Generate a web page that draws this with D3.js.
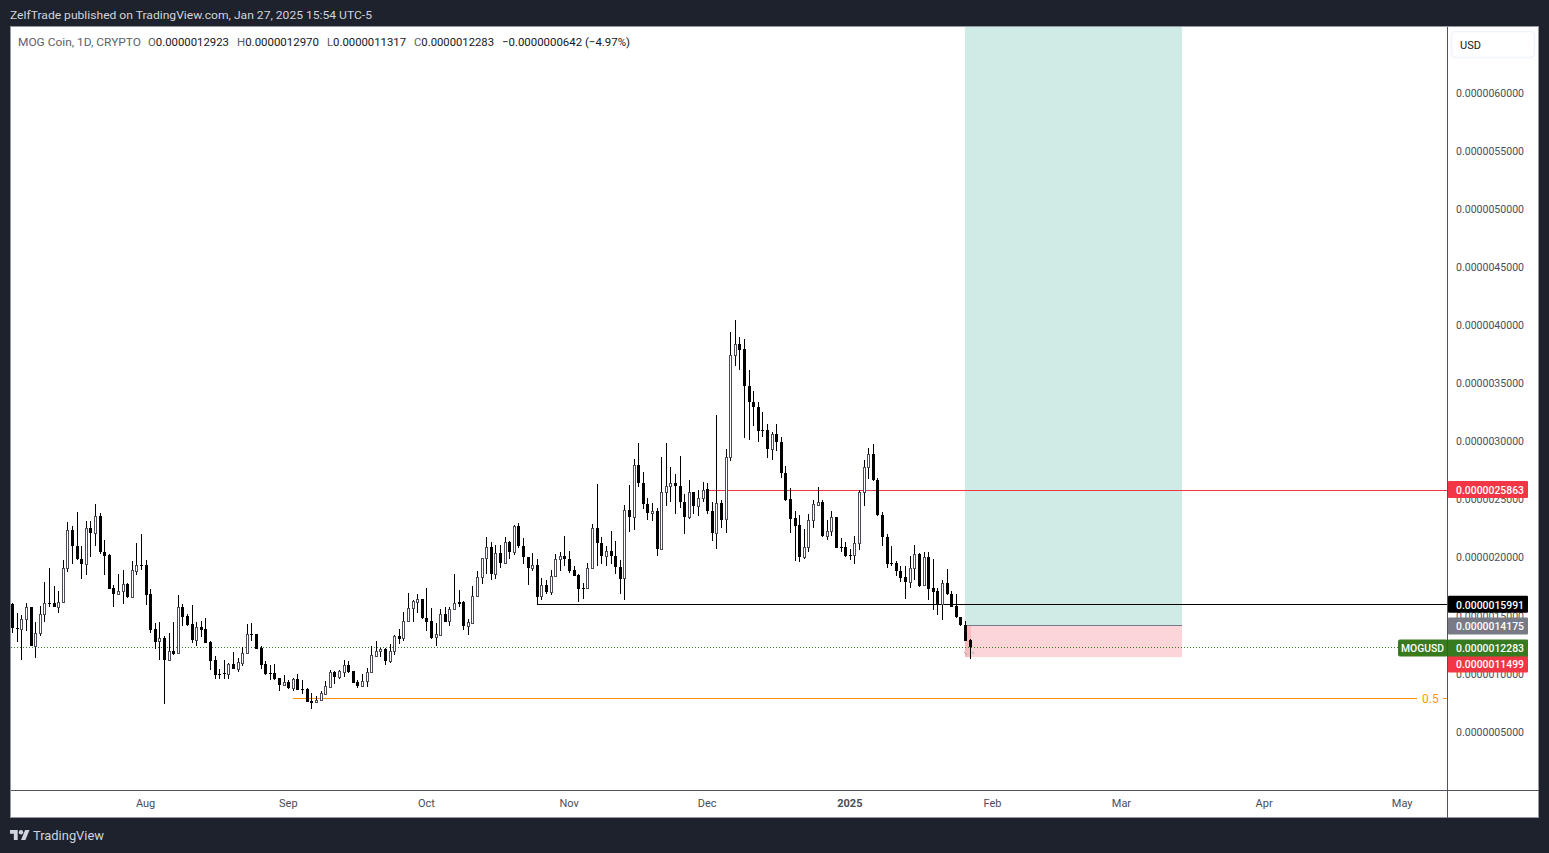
<!DOCTYPE html>
<html>
<head>
<meta charset="utf-8">
<script src="https://cdn.jsdelivr.net/npm/d3@7/dist/d3.min.js"></script>
<style>
html,body{margin:0;padding:0;background:#1e222d;overflow:hidden}
svg{display:block}
text{font-family:Roboto,"Liberation Sans",sans-serif}
</style>
</head>
<body>
<svg id="c" width="1549" height="853"></svg>
<script>
// Prices are in units of 1e-7 USD, one candle per day from firstDay on.
const firstDay = "2024-07-03";
const opens = [
16.03,13.96,13.85,14.71,15.77,12.44,13.50,15.14,16.09,16.09,
15.77,16.17,19.10,22.36,21.03,19.91,19.42,22.55,22.17,23.58,
20.48,20.25,17.41,16.92,17.12,17.75,16.66,18.90,19.36,19.39,
16.89,13.85,12.79,13.07,11.24,11.95,11.78,15.77,15.00,14.31,
12.96,14.05,13.88,12.76,11.21,10.00,10.06,10.03,10.83,10.46,
10.98,11.78,13.42,13.42,12.27,10.83,10.09,10.06,9.63,9.08,
9.31,8.82,9.54,8.68,8.68,7.65,7.56,7.73,8.31,8.91,
10.17,9.77,10.20,10.75,10.23,9.31,9.00,9.37,10.14,11.58,
11.95,12.12,11.15,11.95,13.27,13.07,14.54,15.66,16.23,16.43,
14.80,14.54,13.16,13.39,15.14,14.54,15.57,16.17,16.20,14.16,
14.42,16.69,18.33,19.97,20.94,18.64,20.40,19.53,21.37,20.48,
22.72,21.00,20.05,19.08,19.36,16.69,17.64,17.09,18.39,19.88,
20.17,19.88,18.93,18.50,17.38,17.38,19.10,22.55,21.26,20.14,
20.57,20.14,19.19,18.24,24.10,23.50,27.98,26.43,24.62,23.84,
24.01,20.74,25.62,26.17,26.43,26.17,24.79,23.47,25.68,24.42,
25.10,25.91,24.04,22.17,24.73,23.32,28.66,37.45,38.42,37.96,
34.80,33.40,32.97,31.01,30.99,29.35,30.64,29.98,27.28,25.04,
23.41,22.80,20.02,20.91,23.21,24.58,24.78,21.83,22.26,23.53,
20.94,20.91,20.23,20.23,21.23,25.65,27.78,28.95,26.68,23.70,
21.78,19.56,19.56,18.88,18.33,17.90,19.08,20.34,17.61,20.08,
17.41,17.12,16.03,17.84,16.89,15.86,14.91,14.22,12.923];
const highs = [
16.09,15.23,15.08,16.09,15.80,14.48,15.86,17.92,19.10,17.58,
17.15,19.82,23.09,22.75,23.92,20.97,23.15,23.15,24.64,23.84,
21.51,20.31,17.64,18.61,18.96,17.81,19.73,21.26,22.06,19.82,
17.29,14.36,14.48,13.27,13.50,14.48,16.77,16.00,15.17,15.92,
14.51,14.57,14.82,12.81,11.52,10.43,11.18,10.95,11.90,11.35,
12.30,14.31,14.36,13.45,12.41,11.09,10.75,10.86,9.63,9.89,
9.48,9.63,9.97,9.48,8.77,8.34,8.11,8.54,9.40,10.32,
10.23,10.35,11.18,11.12,10.26,9.46,10.00,10.49,12.41,12.84,
12.24,12.21,12.58,13.33,13.88,15.34,16.98,16.32,16.89,16.46,
17.41,15.66,14.36,15.57,15.80,15.80,18.61,17.24,16.29,14.71,
17.58,18.87,19.97,21.80,21.37,21.09,21.09,21.80,21.46,22.84,
22.98,21.72,20.05,20.40,19.88,18.24,18.07,18.96,20.31,20.51,
21.86,20.60,19.30,18.59,17.81,19.53,22.89,26.37,21.80,21.03,
22.32,21.46,19.82,24.56,26.28,28.49,29.87,27.37,25.13,24.70,
24.30,28.69,29.87,27.83,27.20,28.78,25.48,26.68,25.68,25.82,
26.54,26.45,24.81,32.31,24.96,29.35,39.46,40.49,38.99,38.85,
36.15,34.37,33.40,32.54,31.50,30.84,31.50,30.41,27.91,25.99,
24.04,23.64,22.49,23.78,24.93,26.05,24.99,23.26,24.04,23.53,
21.72,21.37,20.74,21.86,25.82,28.44,29.47,29.81,26.89,23.96,
22.03,21.03,19.74,19.28,19.31,20.11,21.11,20.40,20.51,20.45,
19.91,17.41,18.04,19.05,17.15,16.89,14.94,14.54,12.970];
const lows = [
13.56,12.76,11.21,13.73,12.44,11.38,13.22,14.48,15.80,15.74,
15.28,16.14,18.81,19.42,19.82,18.21,18.53,20.02,20.97,20.28,
18.53,17.32,15.80,16.89,16.03,16.55,16.66,18.53,18.96,15.97,
13.56,12.18,11.21,7.45,11.21,11.67,11.75,14.13,14.13,12.64,
12.41,13.16,12.70,10.35,9.54,9.57,9.60,9.60,10.43,10.20,
10.72,11.75,12.84,12.18,10.46,9.94,9.48,9.46,8.57,8.97,
8.74,8.57,8.62,8.28,7.59,7.01,7.53,7.67,8.19,8.82,
9.14,9.57,9.74,10.11,9.25,8.82,8.88,8.88,10.11,11.47,
11.49,10.80,10.98,11.64,12.58,12.79,14.51,14.48,15.28,14.71,
13.73,13.04,12.44,13.22,14.51,14.13,15.57,15.80,13.79,13.39,
14.42,16.66,17.70,18.62,18.04,18.21,19.08,19.53,19.85,20.20,
20.80,19.42,17.61,18.90,16.00,16.32,16.84,16.78,18.33,18.82,
19.25,18.67,18.39,16.23,16.46,17.35,19.10,19.25,19.42,19.25,
19.45,18.56,16.92,16.32,22.18,22.35,26.08,24.16,23.21,23.12,
20.11,20.74,24.42,24.76,23.78,24.24,22.06,23.32,23.78,23.55,
24.82,23.76,21.48,20.71,22.52,22.17,28.29,36.47,36.18,30.27,
30.10,31.30,29.92,30.35,28.55,28.37,29.15,26.82,24.84,22.09,
19.76,19.67,19.85,20.45,22.52,24.50,21.80,21.54,21.89,20.80,
20.45,20.08,19.82,19.42,20.63,24.47,26.80,26.63,23.61,20.97,
19.08,19.25,18.39,17.90,16.49,17.41,18.10,17.47,17.53,16.38,
15.52,15.09,14.60,16.81,15.75,14.77,14.14,12.82,11.317];
const closes = [
13.91,13.91,14.71,15.74,12.44,13.50,15.14,16.09,16.03,15.77,
16.17,19.10,22.36,20.97,19.85,19.42,22.55,22.17,23.58,20.45,
20.16,17.35,16.89,17.12,17.75,16.66,18.96,19.39,19.30,16.83,
13.79,12.76,13.07,11.21,11.95,11.75,15.74,14.94,14.22,12.93,
14.05,13.82,12.70,11.15,9.94,9.94,10.00,10.86,10.43,11.01,
11.78,13.45,13.36,12.18,10.80,10.03,10.03,9.60,9.08,9.28,
8.82,9.54,8.65,8.62,7.59,7.53,7.76,8.34,8.94,10.14,
9.77,10.23,10.75,10.20,9.25,8.97,9.37,10.14,11.61,11.95,
12.15,11.15,11.95,13.27,13.04,14.54,15.66,16.26,16.43,14.77,
14.51,13.13,13.42,15.14,14.51,15.57,16.09,16.06,14.16,14.45,
16.69,18.33,19.97,20.91,18.64,20.40,19.51,21.34,20.45,22.72,
20.97,20.02,19.08,19.36,16.66,17.64,17.09,18.41,19.88,20.14,
19.85,18.90,18.44,17.27,17.35,19.10,22.55,21.23,20.11,20.57,
20.14,19.16,18.21,24.07,23.47,27.98,26.43,24.59,23.84,24.01,
20.71,25.65,26.17,26.43,26.14,24.76,23.47,25.65,24.42,25.10,
25.82,23.98,22.17,24.70,23.29,28.66,37.45,38.39,37.90,34.75,
33.37,32.94,30.87,30.96,29.32,30.64,29.92,27.25,24.99,23.35,
22.77,20.02,20.91,23.23,24.61,24.78,21.83,22.29,23.50,20.86,
20.89,20.11,20.17,21.26,25.68,27.80,28.92,26.66,23.64,21.75,
19.42,19.51,18.82,18.27,17.87,19.11,20.31,17.58,20.08,17.35,
17.07,16.00,17.81,16.84,15.80,14.86,14.17,12.87,12.283];

const priceTicks = [5,10,15,20,25,30,35,40,45,50,55,60];
const timeTicks = ["2024-08-01","2024-09-01","2024-10-01","2024-11-01","2024-12-01","2025-01-01","2025-02-01","2025-03-01","2025-04-01","2025-05-01"];
const timeLabels = ["Aug","Sep","Oct","Nov","Dec","2025","Feb","Mar","Apr","May"];

// Drawings on the chart
const entryPrice = 14.175, stopPrice = 11.499, targetPrice = 70, lastClose = 12.283;
const boxStart = "2025-01-26", boxEnd = "2025-03-14", boxLastBar = "2025-01-27";
const redLevel = 25.863, redStart = "2024-12-01";
const blackLevel = 15.991, blackStart = "2024-10-25";
const fibLevel = 7.91, fibStart = "2024-09-02", fibLabel = "0.5";

const titleText = "ZelfTrade published on TradingView.com, Jan 27, 2025 15:54 UTC-5";
const legendName = "MOG Coin, 1D, CRYPTO";
const legendParts = [["O","0.0000012923"],["H","0.0000012970"],["L","0.0000011317"],["C","0.0000012283"]];
const legendChange = "\u22120.0000000642 (\u22124.97%)";

const parse = d3.utcParse("%Y-%m-%d");
const fmt = v => (v * 1e-7).toFixed(10);
const days = d3.utcDay.range(parse(firstDay), d3.utcDay.offset(parse(firstDay), opens.length));
const candles = days.map((d,i)=>({d,o:opens[i],h:highs[i],l:lows[i],c:closes[i]}));

const L = 11, R = 1447, T = 27, B = 790, OR = 1538.5, OB = 817.5;
const x = d3.scaleUtc().domain([parse("2024-08-01"), parse("2025-01-27")]).range([145.6, 969.54]);
const y = d3.scaleLinear().domain([5,60]).range([732,93]);
const yr = v => Math.round(y(v));

const svg = d3.select("#c");
const defs = svg.append("defs");
defs.append("clipPath").attr("id","pane").append("rect").attr("x",L).attr("y",T).attr("width",R-L).attr("height",B-T);

// frame
svg.append("rect").attr("x",10).attr("y",27).attr("width",OR-10).attr("height",OB-27).attr("fill","#ffffff");
svg.append("rect").attr("x",10.5).attr("y",26.5).attr("width",OR-10.5).attr("height",OB-26.5).attr("fill","none").attr("stroke","#9598a1").attr("stroke-width",1).attr("shape-rendering","crispEdges");

const pane = svg.append("g").attr("clip-path","url(#pane)");

// long position box
const bx0 = x(parse(boxStart)), bw = x(parse(boxEnd))-bx0+0.8;
pane.append("rect").attr("x",bx0).attr("width",bw)
  .attr("y",y(targetPrice)).attr("height",y(entryPrice)-y(targetPrice)).attr("fill","#cfebe5");
pane.append("rect").attr("x",bx0).attr("width",bw)
  .attr("y",y(entryPrice)).attr("height",y(stopPrice)-y(entryPrice)+0.6).attr("fill","#fcd5d8");
pane.append("rect").attr("x",bx0).attr("width",x(parse(boxLastBar))-bx0+1.5)
  .attr("y",y(entryPrice)).attr("height",y(stopPrice)-y(entryPrice)+0.6).attr("fill","#fbb9be");
pane.append("line").attr("x1",bx0).attr("x2",bx0+bw)
  .attr("y1",yr(entryPrice)+.5).attr("y2",yr(entryPrice)+.5).attr("stroke","#787b86").attr("shape-rendering","crispEdges");

// last price dotted line
pane.append("line").attr("x1",L).attr("x2",R).attr("y1",yr(lastClose)+.5).attr("y2",yr(lastClose)+.5)
  .attr("stroke","#387a1f").attr("stroke-dasharray","1 2").attr("shape-rendering","crispEdges");

// horizontal levels
function level(v, start, color){
  pane.append("line").attr("x1",x(parse(start))).attr("x2",R).attr("y1",yr(v)+.5).attr("y2",yr(v)+.5)
    .attr("stroke",color).attr("shape-rendering","crispEdges");
}
level(redLevel, redStart, "#f23645");
level(blackLevel, blackStart, "#000000");
level(fibLevel, fibStart, "#ff9800");
// gap around the fib label
pane.append("rect").attr("x",1417).attr("y",yr(fibLevel)-3).attr("width",26).attr("height",7).attr("fill","#ffffff");
svg.append("text").attr("x",1422).attr("y",y(fibLevel)).attr("dy","0.36em").attr("fill","#ff9800")
  .attr("font-size",12).text(fibLabel);

// candles
const g = pane.append("g").attr("shape-rendering","crispEdges");
const cx = d => Math.round(x(d.d));
g.selectAll("rect.w").data(candles).join("rect").attr("class","w")
  .attr("x",cx).attr("width",1)
  .attr("y",d=>Math.round(y(d.h))).attr("height",d=>Math.max(1,Math.round(y(d.l))-Math.round(y(d.h))))
  .attr("fill","#000");
const isHollow = d => d.c>d.o && (yr(d.o)-yr(d.c))>=2;
g.selectAll("rect.b").data(candles).join("rect").attr("class","b")
  .attr("x",d=>isHollow(d)?cx(d)-0.5:cx(d)-1)
  .attr("width",d=>isHollow(d)?2:3)
  .attr("y",d=>isHollow(d)?yr(d.c)+.5:yr(Math.max(d.o,d.c)))
  .attr("height",d=>isHollow(d)?yr(d.o)-yr(d.c):Math.max(1,yr(Math.min(d.o,d.c))-yr(Math.max(d.o,d.c))))
  .attr("fill",d=>isHollow(d)?"#fff":"#000")
  .attr("stroke",d=>isHollow(d)?"#4a4a58":"none");

// small grey markers beside the last bar
const last = candles[candles.length-1];
const mk = pane.append("g").attr("stroke","#a0a3ab").attr("fill","none").attr("stroke-width",1);
mk.append("path").attr("d",d3.line()([[cx(last)-6,y(stopPrice)-4.5],[cx(last)-3,y(stopPrice)-1.5]]));
mk.append("path").attr("d",d3.line()([[cx(last)+4,y(stopPrice)-2.5],[cx(last)+2,y(stopPrice)-5]]));

// axis lines
svg.append("line").attr("x1",R+.5).attr("x2",R+.5).attr("y1",T).attr("y2",OB).attr("stroke","#50535e").attr("shape-rendering","crispEdges");
svg.append("line").attr("x1",L).attr("x2",OR).attr("y1",B+.5).attr("y2",B+.5).attr("stroke","#50535e").attr("shape-rendering","crispEdges");

// price axis
const ya = svg.append("g").attr("transform",`translate(${R},-0.3)`)
  .call(d3.axisRight(y).tickValues(priceTicks).tickSize(0).tickPadding(9).tickFormat(fmt));
ya.select(".domain").remove();
ya.selectAll("text").attr("fill","#4a4d57").attr("font-size",11).attr("textLength",68).attr("lengthAdjust","spacingAndGlyphs")
  .style("font-family","Roboto");

// time axis
const xa = svg.append("g").attr("transform",`translate(-0.5,${B+1})`)
  .call(d3.axisBottom(x).tickValues(timeTicks.map(parse)).tickSize(0).tickPadding(8)
    .tickFormat((d,i)=>timeLabels[i]));
xa.select(".domain").remove();
xa.selectAll("text").attr("fill","#4a4d57").attr("font-size",11)
  .attr("font-weight",(d,i)=>timeLabels[i]==="2025"?700:400);

// price labels
function tag(v, text, color, nudge){
  const c = y(v)+(nudge||0);
  svg.append("rect").attr("x",R+1).attr("width",80).attr("y",c-8.5).attr("height",17).attr("rx",1).attr("fill",color);
  svg.append("text").attr("x",1456).attr("y",c+0.5).attr("dy","0.36em").attr("fill","#fff").attr("font-size",11)
    .attr("font-weight",500).attr("textLength",68).attr("lengthAdjust","spacingAndGlyphs").text(text);
}
tag(redLevel, "0.0000025863", "#f23645");
tag(blackLevel, "0.0000015991", "#000000");
tag(entryPrice, "0.0000014175", "#787b86", 0.6);
tag(stopPrice, "0.0000011499", "#f23645", 7.4);
tag(lastClose, "0.0000012283", "#387a1f", 0.5);
svg.append("rect").attr("x",1398).attr("width",50).attr("y",y(lastClose)-8).attr("height",17).attr("rx",2).attr("fill","#387a1f");
svg.append("text").attr("x",1401).attr("y",y(lastClose)+0.5).attr("dy","0.36em").attr("fill","#fff").attr("font-size",10.5)
  .attr("font-weight",500).attr("textLength",43).attr("lengthAdjust","spacingAndGlyphs").text("MOGUSD");
svg.append("line").attr("x1",R+.5).attr("x2",R+.5).attr("y1",y(lastClose)-8).attr("y2",y(lastClose)+9).attr("stroke","#2f6a1a");

// USD box
svg.append("rect").attr("x",1451.5).attr("y",31.5).attr("width",83).attr("height",26).attr("rx",4).attr("fill","#fff").attr("stroke","#f0f3fa").attr("stroke-width",1.5);
svg.append("text").attr("x",1460).attr("y",45).attr("dy","0.36em").attr("fill","#131722").attr("font-size",11).text("USD");

// header texts
function fit(t, xp, yp, w, col, size, weight){
  return svg.append("text").attr("x",xp).attr("y",yp).attr("fill",col).attr("font-size",size||11.5)
    .attr("font-weight",weight||400).attr("textLength",w).attr("lengthAdjust","spacingAndGlyphs").text(t);
}
fit(titleText,10,18.5,362,"#d1d4dc",11.5,400);
fit(legendName,18,46,123,"#5d606b",11.5);
const px = [148,237,327,414], pw = [81,82,79,80];
legendParts.forEach((p,i)=>{
  const t = svg.append("text").attr("x",px[i]).attr("y",46).attr("font-size",11.5)
    .attr("textLength",pw[i]).attr("lengthAdjust","spacingAndGlyphs");
  t.append("tspan").attr("fill","#5d606b").text(p[0]);
  t.append("tspan").attr("fill","#131722").text(p[1]);
});
fit(legendChange,502,46,128,"#131722",11.5);

// TradingView logo
const logo = svg.append("g").attr("transform","translate(10,827.8) scale(0.55)").attr("fill","#d1d4dc");
logo.append("path").attr("d","M14 22H7V11H0V4h14v18zM28 22h-8l7.5-18h8L28 22z");
logo.append("circle").attr("cx",20).attr("cy",8).attr("r",4);
fit("TradingView",33,840,71,"#d1d4dc",13.5,400);
</script>
</body>
</html>
